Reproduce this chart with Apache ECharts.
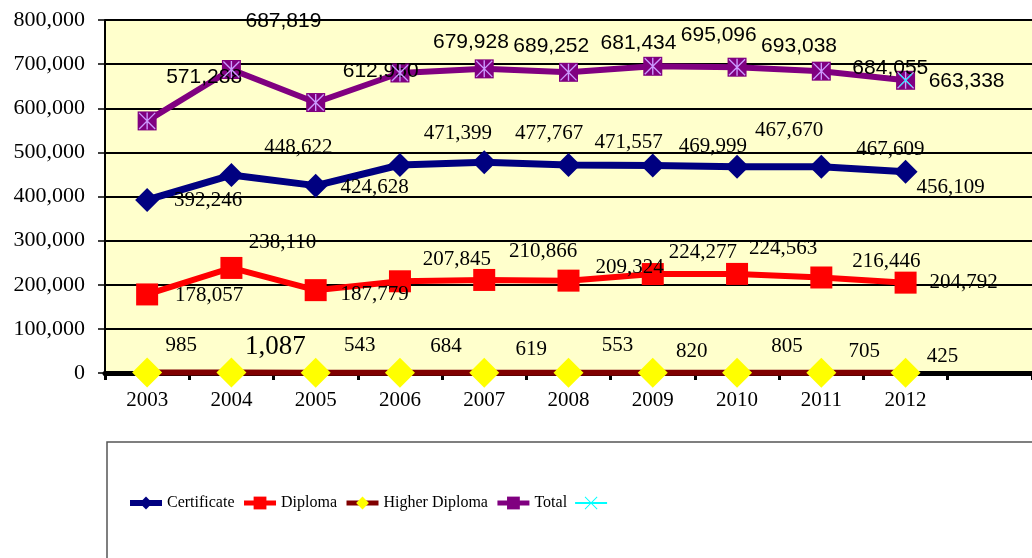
<!DOCTYPE html>
<html>
<head>
	<meta charset="utf-8">
	<title>enrolment</title>
	<script src="https://cdn.jsdelivr.net/npm/echarts@6/dist/echarts.min.js"></script>
	<style type="text/css">
		body{ margin: 0; padding: 0; background: #fff; }
		#main{ width: 1032px; height: 558px; }
	</style>
</head>
<body>
	<div id="main"></div>
	<script type="text/javascript">
	// data
	var years = ['2003','2004','2005','2006','2007','2008','2009','2010','2011','2012',''];
	var certificate = [392246, 448622, 424628, 471399, 477767, 471557, 469999, 467670, 467609, 456109];
	var diploma = [178057, 238110, 187779, 207845, 210866, 209324, 224277, 224563, 216446, 204792];
	var higherDiploma = [985, 1087, 543, 684, 619, 553, 820, 805, 705, 425];
	var total = [571288, 687819, 612950, 679928, 689252, 681434, 695096, 693038, 684055, 663338];
	var extra = [null, null, null, null, null, null, null, null, null, 663338];
	var yTicks = [0, 100000, 200000, 300000, 400000, 500000, 600000, 700000, 800000];

	// label placement (the original labels sit off to the right of the points)
	var certOff = [[61,1],[67,-28],[59,2],[58,-32],[65,-29],[60,-22],[60,-19],[52,-36],[69,-17],[45,16]];
	var dipOff = [[62,1],[51,-25],[59,4],[57,-22],[59,-28],[61,-13],[50,-22],[46,-25],[65,-16],[58,0]];
	var hdOff = [[34,-27],[44,-26],[44,-27],[46,-26],[47,-23],[49,-27],[39,-21],[50,-26],[43,-21],[37,-16]];
	var totOff = [[57,-44],[52,-48],[65,-31],[71,-31],[67,-23],[70,-29],[66,-31],[62,-21],[69,-3],[61,1]];

	var serif = '"Liberation Serif", "Times New Roman", serif';
	var sans = '"Liberation Sans", Arial, sans-serif';

	function fmt(v){ return Number(v).toLocaleString('en-US'); }

	function withLabels(arr, offs, extraLabel){
		return arr.map(function(v, i){
			var lab = { offset: offs[i] };
			if (extraLabel && extraLabel[i]) { lab.fontSize = extraLabel[i]; }
			return { value: v, label: lab };
		});
	}

	var asterisk = 'path://M9.2,0 L10.8,0 L10.8,20 L9.2,20 Z M0,1.1 L1.1,0 L20,18.9 L18.9,20 Z M18.9,0 L20,1.1 L1.1,20 L0,18.9 Z';
	var cross = 'path://M0,1 L1,0 L20,19 L19,20 Z M19,0 L20,1 L1,20 L0,19 Z';

	var myChart = echarts.init(document.getElementById('main'));
	var option = {
		animation: false,
		backgroundColor: '#fff',
		graphic: [{
			type: 'rect',
			z: 0,
			shape: { x: 107, y: 442, width: 1000, height: 200 },
			style: { fill: '#fff', stroke: '#555', lineWidth: 1.5 }
		}],
		grid: {
			left: 105, right: 0, top: 20, bottom: 185,
			show: true, backgroundColor: '#FFFFCC', borderWidth: 0
		},
		legend: {
			left: 122, top: 490,
			itemWidth: 32, itemHeight: 16, itemGap: 7,
			data: [
				{ name: 'Certificate', lineStyle: { width: 6 } },
				{ name: 'Diploma', lineStyle: { width: 5 } },
				{ name: 'Higher Diploma', lineStyle: { width: 5 } },
				{ name: 'Total', lineStyle: { width: 5 } },
				{ name: ' ', lineStyle: { width: 2 } }
			],
			textStyle: { fontFamily: serif, fontSize: 16, color: '#000' }
		},
		xAxis: {
			type: 'category',
			data: years,
			boundaryGap: true,
			axisLine: { lineStyle: { color: '#000', width: 5 } },
			axisTick: { show: true, interval: 0, length: 7, lineStyle: { color: '#000', width: 3 } },
			axisLabel: { interval: 0, margin: 17, fontFamily: serif, fontSize: 21, color: '#000' },
			splitLine: { show: false }
		},
		yAxis: {
			type: 'value',
			min: yTicks[0], max: yTicks[yTicks.length - 1], interval: yTicks[1] - yTicks[0],
			axisLine: { show: true, lineStyle: { color: '#000', width: 2 } },
			axisTick: { show: true, length: 7, lineStyle: { color: '#000', width: 1.5 } },
			axisLabel: { margin: 20, fontFamily: serif, fontSize: 22, color: '#000', formatter: fmt },
			splitLine: { show: true, lineStyle: { color: '#000', width: 2 } }
		},
		series: [
			{
				name: 'Certificate', type: 'line',
				data: withLabels(certificate, certOff),
				symbol: 'diamond', symbolSize: 24,
				itemStyle: { color: '#000080' },
				lineStyle: { color: '#000080', width: 7 },
				label: { show: true, position: 'inside', fontFamily: serif, fontSize: 21, color: '#000', formatter: function(p){ return fmt(p.value); } },
				z: 3
			},
			{
				name: 'Diploma', type: 'line',
				data: withLabels(diploma, dipOff),
				symbol: 'rect', symbolSize: 22,
				itemStyle: { color: '#FF0000' },
				lineStyle: { color: '#FF0000', width: 6 },
				label: { show: true, position: 'inside', fontFamily: serif, fontSize: 21, color: '#000', formatter: function(p){ return fmt(p.value); } },
				z: 3
			},
			{
				name: 'Higher Diploma', type: 'line',
				data: withLabels(higherDiploma, hdOff, [null, 27]),
				symbol: 'diamond', symbolSize: 30,
				itemStyle: { color: '#FFFF00' },
				lineStyle: { color: '#800000', width: 6 },
				label: { show: true, position: 'inside', fontFamily: serif, fontSize: 21, color: '#000', formatter: function(p){ return fmt(p.value); } },
				z: 3
			},
			{
				name: 'Total', type: 'line',
				data: withLabels(total, totOff),
				symbol: 'rect', symbolSize: 19,
				itemStyle: { color: '#800080' },
				lineStyle: { color: '#800080', width: 6 },
				label: { show: true, position: 'inside', fontFamily: sans, fontSize: 21, color: '#000', formatter: function(p){ return fmt(p.value); } },
				z: 3
			},
			{
				name: 'TotalMark', type: 'line',
				data: total,
				symbol: asterisk, symbolSize: 17,
				itemStyle: { color: '#CC99FF' },
				lineStyle: { opacity: 0 },
				silent: true,
				z: 4
			},
			{
				name: ' ', type: 'line',
				data: extra,
				symbol: cross, symbolSize: 13,
				itemStyle: { color: '#00FFFF' },
				lineStyle: { color: '#00FFFF', width: 2 },
				z: 5
			}
		]
	};
	myChart.setOption(option);
	</script>
</body>
</html>
